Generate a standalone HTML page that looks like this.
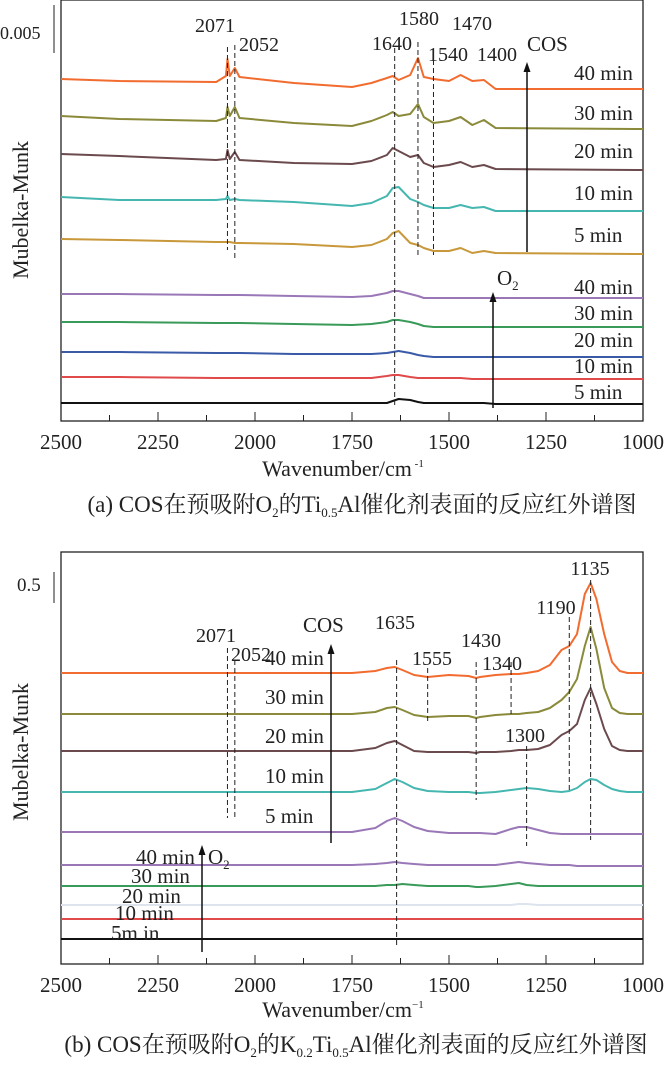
<!DOCTYPE html>
<html><head><meta charset="utf-8"><style>
body{margin:0;background:#fff}
svg{display:block;font-family:"Liberation Serif","Noto Serif CJK SC",serif}
text{fill:#222}
</style></head><body>
<svg id="chart" width="666" height="1074" viewBox="0 0 666 1074" xmlns="http://www.w3.org/2000/svg">
<g id="gA"></g>
<g id="gB"></g>
</svg>
<script>
// ===== Panel (a) data =====
const wavesA = [2500,2350,2100,2075,2071,2065,2052,2040,1900,1750,1700,1660,1645,1630,1600,1580,1565,1540,1500,1470,1440,1410,1380,1000];
const cos40A = [342,340,339,345,362,345,353,344,338,334,338,343,345,341,346,363,344,342,340,346,340,341,332,332];
const cos30A = [305,302,300,303,314,305,314,303,298,295,300,306,309,305,307,317,304,298,300,304,296,301,293,292];
const cos20A = [267,265,261,262,271,262,269,261,258,257,260,266,273,270,264,266,258,254,256,259,254,256,252,251];
const cos10A = [224,221,221,222,225,221,222,221,219,215,218,225,233,234,222,219,216,213,213,216,213,214,210,210];
const cos5A  = [182,181,179,179,179,179,178,178,177,174,176,182,188,190,178,176,173,170,170,173,168,170,168,167];
const o240A  = [127,127,126,126,126,126,126,126,125,124,125,128,130,130,127,125,123,123,123,123,123,123,123,123];
const o230A  = [99,99,98,98,98,98,98,98,97,96,97,99,101,101,99,97,95,94,94,94,94,94,94,94];
const o220A  = [69,69,68,68,68,68,68,68,67,67,67,68,69,70,68,66,65,64,64,64,64,64,64,64];
const o210A  = [44,44,43,43,43,43,43,43,43,43,43,45,46,46,44,43,43,43,43,43,42,42,42,42];
const o25A   = [18,18,18,18,18,18,18,18,18,18,18,18,20,22,21,19,18,18,18,18,18,18,17,17];
const xTicks = [2500,2250,2000,1750,1500,1250,1000];
// ===== Panel (b) data =====
const wavesB = [2500,2000,1750,1690,1660,1640,1620,1590,1555,1500,1450,1430,1420,1380,1340,1320,1300,1270,1240,1210,1190,1170,1150,1135,1120,1100,1080,1060,1040,1000];
const cos40B = [291,291,291,293,296,297,294,289,287,289,288,286,287,289,290,290,291,293,299,314,318,330,370,381,365,330,302,293,291,291];
const cos30B = [250,250,250,252,256,257,254,249,247,248,248,246,247,249,250,250,251,252,256,264,272,285,318,337,315,276,256,251,250,250];
const cos20B = [213,213,213,216,221,223,219,213,212,212,212,211,212,212,213,214,214,215,219,229,233,240,264,276,260,235,218,214,213,213];
const cos10B = [172,172,172,175,181,185,182,176,173,172,172,171,171,172,174,175,176,175,173,172,173,176,182,185,184,179,175,173,172,172];
const cos5B  = [132,132,132,136,143,146,143,137,133,131,131,131,131,130,135,137,137,134,131,130,130,130,130,130,130,130,130,130,130,130];
const o240B  = [99,99,99,100,101,102,101,100,99,99,99,99,99,99,101,102,101,100,99,99,99,98,98,98,98,98,98,98,98,98];
const o230B  = [78,78,78,78,79,79,80,79,78,78,78,77,77,78,80,81,79,78,78,78,78,78,78,78,78,78,78,78,78,78];
const o220B  = [59,59,59,59,59,59,59,59,59,59,59,59,59,59,59,60,60,59,59,59,59,59,59,59,59,59,59,59,59,59];
const o210B  = [45,45,45,45,45,45,45,45,45,45,45,45,45,45,45,45,45,45,45,45,45,45,45,45,45,45,45,45,45,45];
const o25B   = [25,25,25,25,25,25,25,25,25,25,25,25,25,25,25,25,25,25,25,25,25,25,25,25,25,25,25,25,25,25];

const NS="http://www.w3.org/2000/svg";
function mk(parent,tag,attrs,txt){const e=document.createElementNS(NS,tag);for(const k in attrs)e.setAttribute(k,attrs[k]);if(txt!==undefined)e.textContent=txt;parent.appendChild(e);return e;}
const X0=61,X1=643;
function xs(w){return X0+(2500-w)/1500*(X1-X0);}

function panel(g,top,bottom,waves,series,colors,names){
  const ys=v=>bottom-v;
  const fr=mk(g,'rect',{x:X0,y:top,width:X1-X0,height:bottom-top,fill:'none',stroke:'#222','stroke-width':1.3});
  
  
  for(let w=2500;w>=1000;w-=125){
    const major=(w%250===0);
    const t=mk(g,'line',{x1:xs(w),x2:xs(w),y1:bottom,y2:bottom-(major?9:6),stroke:'#222','stroke-width':1});
    
    
  }
  xTicks.forEach(w=>{
    const t=mk(g,'text',{x:xs(w),y:bottom+28,'font-size':21,'text-anchor':'middle'},String(w));
    
    
  });
  series.forEach((s,i)=>{
    const d=s.map((v,j)=>(j?'L':'M')+xs(waves[j]).toFixed(1)+' '+ys(v).toFixed(1)).join(' ');
    const p=mk(g,'path',{d:d,fill:'none',stroke:colors[i],'stroke-width':2,'stroke-linejoin':'round'});
    
    
  });
}
function dash(g,w,y1,y2){
  const l=mk(g,'line',{x1:xs(w),x2:xs(w),y1:y1,y2:y2,stroke:'#222','stroke-width':1,'stroke-dasharray':'5,3'});
  
  
}
function label(g,x,y,t,anchor,size,name){
  const e=mk(g,'text',{x:x,y:y,'font-size':size||20,'text-anchor':anchor||'start'},t);
  
  
  return e;
}
function arrow(g,x,y1,y2,name){
  const l=mk(g,'line',{x1:x,x2:x,y1:y1,y2:y2+6,stroke:'#111','stroke-width':1.5});
  
  
  const h=mk(g,'path',{d:`M${x-3.5} ${y2+10} L${x} ${y2} L${x+3.5} ${y2+10} Z`,fill:'#111'});
  
  
}
const colsA=['#f26b2f','#8a8a3a','#6b4a4e','#45b7b0','#c8983a','#9a78b8','#3a9a5a','#3a5aa8','#e04a4a','#111'];
const namesA=['cos-40min','cos-30min','cos-20min','cos-10min','cos-5min','o2-40min','o2-30min','o2-20min','o2-10min','o2-5min'];

// Panel A
const gA=document.getElementById('gA');
panel(gA,0,421,wavesA,[cos40A,cos30A,cos20A,cos10A,cos5A,o240A,o230A,o220A,o210A,o25A],colsA,namesA);
dash(gA,2071,47,250);dash(gA,2052,45,258);dash(gA,1640,48,408);dash(gA,1580,42,255);dash(gA,1540,60,255);
label(gA,215,32,'2071','middle');label(gA,259,51,'2052','middle');label(gA,392,50,'1640','middle');
label(gA,419,25,'1580','middle');label(gA,472,30,'1470','middle');label(gA,448,61,'1540','middle');label(gA,497,61,'1400','middle');
label(gA,527,51,'COS','start',21);
arrow(gA,527,252,62,'cos-arrow');
arrow(gA,493,408,292,'o2-arrow');
label(gA,497,285,'','start',21,'o2-label').innerHTML='O<tspan font-size="13" dy="5">2</tspan>';
[['40 min',80],['30 min',120],['20 min',158],['10 min',200],['5 min',242],['40 min',294],['30 min',320],['20 min',347],['10 min',373],['5 min',399]].forEach(a=>label(gA,574,a[1],a[0],'start',21,'series-label'));
label(gA,0,39,'0.005','start',18,'scale-bar-label');
{const b=mk(gA,'line',{x1:54,x2:54,y1:5,y2:53,stroke:'#222','stroke-width':1});}
{const t=label(gA,0,0,'Mubelka-Munk','middle',22,'y-axis-title');t.setAttribute('transform','translate(28,210) rotate(-90)');}
label(gA,343,476,'','middle',22,'x-axis-title').innerHTML='Wavenumber/cm<tspan font-size="11" dy="-9"> -1</tspan>';
label(gA,362,512,'','middle',23,'caption-a').innerHTML='(a) COS在预吸附O<tspan font-size="13" dy="5">2</tspan><tspan dy="-5">的Ti</tspan><tspan font-size="13" dy="5">0.5</tspan><tspan dy="-5">Al催化剂表面的反应红外谱图</tspan>';

// Panel B
const colsB=['#f26b2f','#8a8a3a','#6b4a4e','#45b7b0','#9a78b8','#9a78b8','#3a9a5a','#dde4ee','#e04a4a','#111'];
const gB=document.getElementById('gB');
panel(gB,552,964,wavesB,[cos40B,cos30B,cos20B,cos10B,cos5B,o240B,o230B,o220B,o210B,o25B],colsB,namesA);
dash(gB,2071,648,818);dash(gB,2052,660,818);dash(gB,1635,660,945);dash(gB,1555,668,722);dash(gB,1430,662,800);
dash(gB,1340,662,714);dash(gB,1300,746,846);dash(gB,1190,617,792);dash(gB,1135,580,840);
label(gB,590,575,'1135','middle');label(gB,556,614,'1190','middle');label(gB,395,629,'1635','middle');
label(gB,432,665,'1555','middle');label(gB,481,647,'1430','middle');label(gB,502,670,'1340','middle');
label(gB,525,742,'1300','middle');label(gB,216,642,'2071','middle');label(gB,251,661,'2052','middle');
label(gB,303,632,'COS','start',21);
arrow(gB,331,843,644,'cos-arrow');
[['40 min',665],['30 min',704],['20 min',743],['10 min',783],['5 min',823]].forEach(a=>label(gB,265,a[1],a[0],'start',21,'series-label'));
label(gB,136,864,'40 min','start',21,'series-label');
label(gB,208,864,'','start',21,'o2-label').innerHTML='O<tspan font-size="13" dy="5">2</tspan>';
label(gB,131,883,'30 min','start',21,'series-label');label(gB,122,903,'20 min','start',21,'series-label');
label(gB,115,920,'10 min','start',21,'series-label');label(gB,111,940,'5m in','start',21,'series-label');
arrow(gB,202,952,845,'o2-arrow');
label(gB,17,591,'0.5','start',19,'scale-bar-label');
{const b=mk(gB,'line',{x1:54,x2:54,y1:572,y2:603,stroke:'#222','stroke-width':1});}
{const t=label(gB,0,0,'Mubelka-Munk','middle',22,'y-axis-title');t.setAttribute('transform','translate(28,752) rotate(-90)');}
label(gB,343,1017,'','middle',22,'x-axis-title').innerHTML='Wavenumber/cm<tspan font-size="11" dy="-9">−1</tspan>';
label(gB,356,1052,'','middle',23,'caption-b').innerHTML='(b) COS在预吸附O<tspan font-size="13" dy="5">2</tspan><tspan dy="-5">的K</tspan><tspan font-size="13" dy="5">0.2</tspan><tspan dy="-5">Ti</tspan><tspan font-size="13" dy="5">0.5</tspan><tspan dy="-5">Al催化剂表面的反应红外谱图</tspan>';
</script>
</body></html>
